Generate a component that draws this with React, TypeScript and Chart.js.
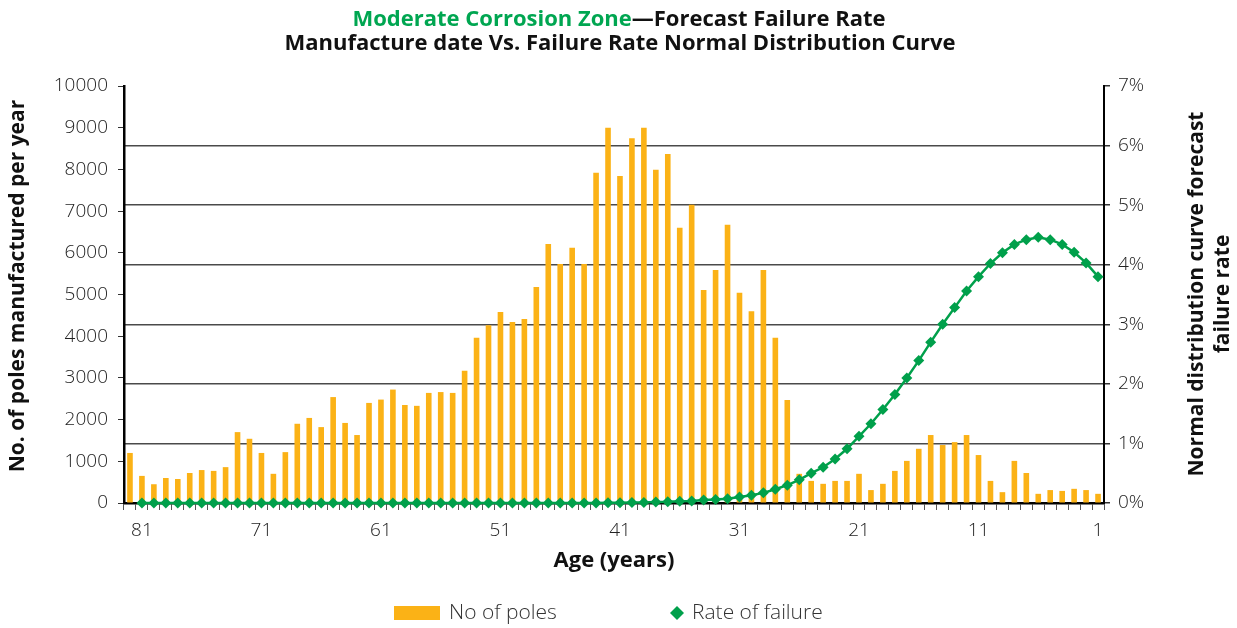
import { useEffect, useRef } from 'react';
import { Chart, registerables } from 'chart.js';

Chart.register(...registerables);

const ages = [
  82, 81, 80, 79, 78, 77, 76, 75, 74, 73, 72, 71, 70, 69, 68, 67, 66, 65, 64, 63, 62,
  61, 60, 59, 58, 57, 56, 55, 54, 53, 52, 51, 50, 49, 48, 47, 46, 45, 44, 43, 42, 41,
  40, 39, 38, 37, 36, 35, 34, 33, 32, 31, 30, 29, 28, 27, 26, 25, 24, 23, 22, 21, 20,
  19, 18, 17, 16, 15, 14, 13, 12, 11, 10, 9, 8, 7, 6, 5, 4, 3, 2, 1,
];

const xTickLabels = ['81', '71', '61', '51', '41', '31', '21', '11', '1'];

const poles = [
  1200, 650, 450, 600, 575, 720, 790, 770, 860, 1700, 1540, 1200, 700, 1220, 1900, 2040,
  1820, 2540, 1920, 1630, 2400, 2480, 2720, 2350, 2330, 2640, 2660, 2640, 3170, 3960, 4260,
  4580, 4340, 4410, 5180, 6210, 5730, 6120, 5730, 7920, 9000, 7840, 8750, 9000, 7990, 8370,
  6600, 7150, 5110, 5590, 6670, 5040, 4600, 5590, 3960, 2470, 700, 530, 460, 530, 530, 700,
  310, 460, 770, 1010, 1300, 1630, 1390, 1460, 1630, 1150, 530, 260, 1010, 720, 220, 310,
  290, 340, 310, 220,
];

const failureRate = [
  null, 0, 0, 0, 0, 0, 0, 0, 0, 0, 0, 0, 0, 0, 0, 0, 0, 0, 0, 0, 0,
  0, 0, 0, 0, 0, 0, 0, 0, 0, 0, 0, 0, 0, 0, 0, 0, 0, 0, 0.001, 0.003, 0.005,
  0.007, 0.01, 0.015, 0.02, 0.03, 0.035, 0.05, 0.06, 0.07, 0.1, 0.13, 0.17, 0.23, 0.3, 0.39,
  0.5, 0.6, 0.74, 0.91, 1.12, 1.33, 1.57, 1.82, 2.1, 2.39, 2.7, 3.0, 3.28, 3.56, 3.8,
  4.02, 4.2, 4.34, 4.42, 4.46, 4.42, 4.34, 4.21, 4.03, 3.8,
];

const ORANGE = '#FBB216';
const GREEN = '#00A04B';
const TITLE_GREEN = '#00A651';
const FONT = '"Open Sans", "Noto Sans", sans-serif';

const textPlugin = {
  id: 'customText',
  afterDraw(chart: any) {
    const ctx = chart.ctx as CanvasRenderingContext2D;
    ctx.save();
    // Title
    ctx.font = `bold 22px ${FONT}`;
    ctx.textBaseline = 'alphabetic';
    ctx.textAlign = 'left';
    const g = 'Moderate Corrosion Zone';
    const b = '\u2014Forecast Failure Rate';
    const wg = ctx.measureText(g).width;
    const wb = ctx.measureText(b).width;
    const x0 = 619 - (wg + wb) / 2;
    ctx.fillStyle = TITLE_GREEN;
    ctx.fillText(g, x0, 26);
    ctx.fillStyle = '#111';
    ctx.fillText(b, x0 + wg, 26);
    ctx.textAlign = 'center';
    ctx.fillText('Manufacture date Vs. Failure Rate Normal Distribution Curve', 620, 50);

    // Axis titles
    ctx.font = `bold 21px ${FONT}`;
    ctx.textBaseline = 'middle';
    ctx.save();
    ctx.translate(18, 286);
    ctx.rotate(-Math.PI / 2);
    ctx.fillText('No. of poles manufactured per year', 0, 0);
    ctx.restore();

    ctx.save();
    ctx.translate(1197, 294);
    ctx.rotate(-Math.PI / 2);
    ctx.fillText('Normal distribution curve forecast', 0, 0);
    ctx.fillText('failure rate', 0, 26);
    ctx.restore();

    // Legend
    ctx.fillStyle = ORANGE;
    ctx.fillRect(394, 606, 46, 14);
    ctx.fillStyle = GREEN;
    ctx.beginPath();
    ctx.moveTo(677, 606);
    ctx.lineTo(684, 613);
    ctx.lineTo(677, 620);
    ctx.lineTo(670, 613);
    ctx.closePath();
    ctx.fill();
    ctx.font = `300 21px ${FONT}`;
    ctx.fillStyle = '#333';
    ctx.textAlign = 'left';
    ctx.fillText('No of poles', 449, 613);
    ctx.fillText('Rate of failure', 692, 613);
    ctx.restore();
  },
};

export default function App() {
  const canvasRef = useRef<HTMLCanvasElement | null>(null);

  useEffect(() => {
    document.body.style.margin = '0';
    const canvas = canvasRef.current;
    if (!canvas) return;
    const tickFont = { family: FONT, size: 19, weight: '300' as any };
    const chart = new Chart(canvas, {
      type: 'bar',
      data: {
        labels: ages.map(String),
        datasets: [
          {
            type: 'line',
            label: 'Rate of failure',
            data: failureRate as any,
            yAxisID: 'y1',
            borderColor: GREEN,
            backgroundColor: GREEN,
            borderWidth: 2.5,
            pointStyle: 'rectRot',
            pointRadius: 5.5,
            pointBackgroundColor: GREEN,
            pointBorderColor: GREEN,
            pointBorderWidth: 0,
            tension: 0,
            order: 0,
            clip: false as any,
          } as any,
          {
            type: 'bar',
            label: 'No of poles',
            data: poles,
            yAxisID: 'y',
            backgroundColor: ORANGE,
            barPercentage: 0.47,
            categoryPercentage: 1,
            order: 1,
          } as any,
        ],
      },
      options: {
        animation: false,
        responsive: false,
        devicePixelRatio: 1,
        layout: { padding: { top: 86, bottom: 53, left: 0, right: 0 } },
        plugins: {
          legend: { display: false },
          tooltip: { enabled: false },
          title: { display: false },
        },
        scales: {
          x: {
            type: 'category',
            offset: true,
            grid: {
              display: true,
              drawOnChartArea: false,
              drawTicks: true,
              tickLength: 7,
              tickColor: '#555',
              offset: true,
              lineWidth: 1,
            },
            border: { display: true, color: '#000', width: 2.5 },
            ticks: {
              autoSkip: false,
              maxRotation: 0,
              minRotation: 0,
              padding: 9,
              color: '#222',
              font: tickFont,
              callback: (_v: any, index: number) => {
                const lbl = String(ages[index]);
                return xTickLabels.includes(lbl) ? lbl : '';
              },
            },
            title: {
              display: true,
              text: 'Age (years)',
              color: '#111',
              font: { family: FONT, size: 22, weight: 'bold' },
              padding: { top: 0, bottom: 1 },
            },
            afterFit: (s: any) => {
              s.height = 72;
            },
          },
          y: {
            position: 'left',
            min: 0,
            max: 10000,
            ticks: {
              stepSize: 1000,
              padding: 10,
              color: '#222',
              font: tickFont,
              callback: (v: any) => String(v),
            },
            grid: { drawOnChartArea: false, drawTicks: true, tickLength: 6, tickColor: '#333' },
            border: { display: true, color: '#000', width: 2.5 },
            afterFit: (s: any) => {
              s.width = 124;
            },
          },
          y1: {
            position: 'right',
            min: 0,
            max: 7,
            ticks: {
              stepSize: 1,
              padding: 8,
              color: '#222',
              font: tickFont,
              callback: (v: any) => `${v}%`,
            },
            grid: {
              drawOnChartArea: true,
              color: (c: any) =>
                c.tick && c.tick.value > 0 && c.tick.value < 7 ? '#4a4a4a' : 'rgba(0,0,0,0)',
              lineWidth: 1.5,
              drawTicks: true,
              tickLength: 6,
              tickColor: '#333',
            },
            border: { display: true, color: '#000', width: 2 },
            afterFit: (s: any) => {
              s.width = 133;
            },
          },
        },
      } as any,
      plugins: [textPlugin],
    });
    return () => chart.destroy();
  }, []);

  return (
    <div style={{ position: 'absolute', left: 0, top: 0, width: 1237, height: 628 }}>
      <canvas ref={canvasRef} width={1237} height={628} />
    </div>
  );
}
